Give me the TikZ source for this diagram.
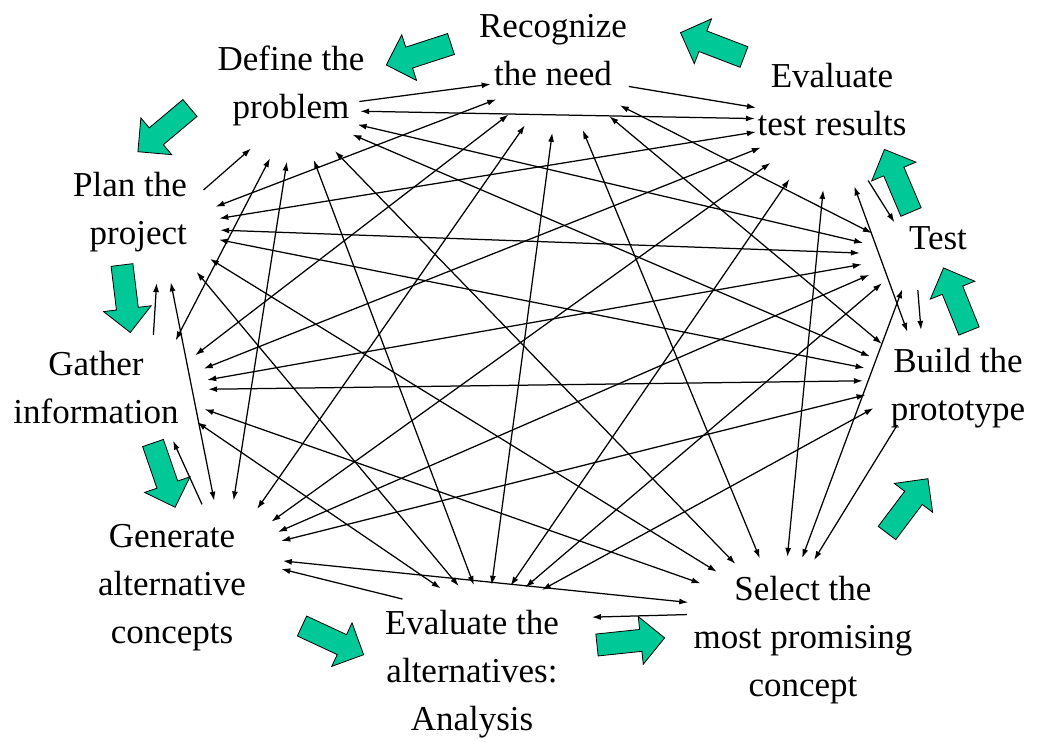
\documentclass[tikz,border=0pt]{standalone}
\usepackage{fontspec}
\setmainfont{Liberation Serif}
\usetikzlibrary{arrows.meta, shapes.geometric}

\definecolor{flowgreen}{RGB}{0,200,150}

\tikzset{
  stage/.style={align=center, inner sep=0pt, font=\fontsize{35}{48}\selectfont},
  port/.style={ellipse, inner sep=0pt},
  link/.style={-{Latex[length=9pt,width=6pt]}, line width=1.25pt},
  twoway/.style={{Latex[length=9pt,width=6pt]}-{Latex[length=9pt,width=6pt]}, line width=1.25pt},
  blockarrow/.style={fill=flowgreen, draw=black, line width=0.8pt, line join=miter}
}

\begin{document}
\begin{tikzpicture}[x=1pt, y=-1pt]
  \useasboundingbox (0,0) rectangle (1037,742);

  % stages of the design process
  \node[stage] (rec) at (553,50) {Recognize\\the need};
  \node[stage] (def) at (291,86) {Define the\\problem};
  \node[stage, align=right, anchor=east] (plan) at (187,212) {Plan the\\project};
  \node[stage] (gath) at (96,388) {Gather\\information};
  \node[stage] (gen) at (172,588) {Generate\\alternative\\concepts};
  \node[stage] (ana) at (472,674) {Evaluate the\\alternatives:\\Analysis};
  \node[stage] (sel) at (803,640) {Select the\\most promising\\concept};
  \node[stage] (build) at (958,388) {Build the\\prototype};
  \node[stage] (test) at (938,238) {Test};
  \node[stage] (evt) at (832,100) {Evaluate\\test results};

  % where the inner arrows start and end
  \node[port, minimum width=140pt, minimum height=116pt] (pR) at (560,75) {};
  \node[port, minimum width=130pt, minimum height=104pt] (pD) at (295,110) {};
  \node[port, minimum width=120pt, minimum height=110pt] (pP) at (160,228) {};
  \node[port, minimum width=116pt, minimum height=110pt] (pGa) at (150,390) {};
  \node[port, minimum width=116pt, minimum height=110pt] (pGe) at (225,555) {};
  \node[port, minimum width=210pt, minimum height=70pt] (pA) at (487,620) {};
  \node[port, minimum width=190pt, minimum height=110pt] (pS) at (782,612) {};
  \node[port, minimum width=124pt, minimum height=100pt] (pB) at (925,380) {};
  \node[port, minimum width=110pt, minimum height=70pt] (pT) at (915,255) {};
  \node[port, minimum width=150pt, minimum height=140pt] (pE) at (830,120) {};

  % one way back to the previous stage
  \draw[link] (pD) -- (pR);
  \draw[link] (pP) -- (pD);
  \draw[link] (pGa) -- (pP);
  \draw[link] (pGe) -- (pGa);
  \draw[link] (pA) -- (pGe);
  \draw[link] (pS) -- (pA);
  \draw[link] (pB) -- (pS);
  \draw[link] (pT) -- (pB);
  \draw[link] (pE) -- (pT);
  \draw[link] (pR) -- (pE);

  % every other pair both ways
  \foreach \a/\b in {pR/pP, pR/pGa, pR/pGe, pR/pA, pR/pS, pR/pB, pR/pT,
                     pD/pGa, pD/pGe, pD/pA, pD/pS, pD/pB, pD/pT, pD/pE,
                     pP/pGe, pP/pA, pP/pS, pP/pB, pP/pT, pP/pE,
                     pGa/pA, pGa/pS, pGa/pB, pGa/pT, pGa/pE,
                     pGe/pS, pGe/pB, pGe/pT, pGe/pE,
                     pA/pB, pA/pT, pA/pE,
                     pS/pT, pS/pE,
                     pB/pE}
    \draw[twoway] (\a) -- (\b);

  % green block arrows round the cycle
  \foreach \x/\y/\ang in {451/44/198, 190/108/220, 122/265/-83, 153/443/-71,
                          302/626/-25, 597/645/6, 887/533/53, 969/331/112,
                          911/212/113, 744/57/159}
    \filldraw[blockarrow, shift={(\x,\y)}, rotate=\ang]
      (0,-11) -- (44,-11) -- (44,-24) -- (68,0) -- (44,24) -- (44,11) -- (0,11) -- cycle;

\end{tikzpicture}
\end{document}
